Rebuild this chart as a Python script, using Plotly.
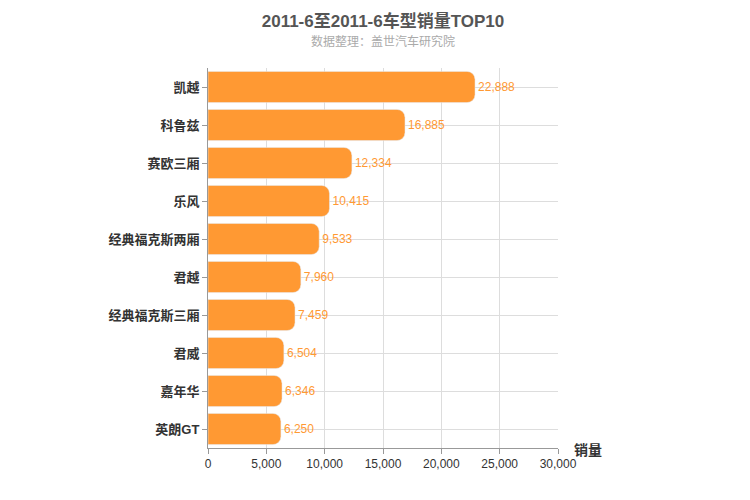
import plotly.graph_objects as go

models = ['凯越', '科鲁兹', '赛欧三厢', '乐风', '经典福克斯两厢', '君越', '经典福克斯三厢', '君威', '嘉年华', '英朗GT']
sales = [22888, 16885, 12334, 10415, 9533, 7960, 7459, 6504, 6346, 6250]
x_ticks = [0, 5000, 10000, 15000, 20000, 25000, 30000]

bar_color = '#FF9933'
grid_color = '#DDDDDD'

fig = go.Figure()
fig.add_trace(go.Bar(
    x=sales,
    y=models,
    orientation='h',
    marker=dict(color=bar_color, cornerradius=8),
    text=[f'{v:,}' for v in sales],
    textposition='outside',
    textfont=dict(color=bar_color, size=12),
    cliponaxis=False,
))

fig.update_layout(
    width=750, height=500,
    plot_bgcolor='white', paper_bgcolor='white',
    font=dict(family='Liberation Sans, Noto Sans CJK SC', color='#333333'),
    margin=dict(l=200, r=200, t=60, b=60, autoexpand=False),
    bargap=0.18,
    showlegend=False,
    title=dict(text='<b>2011-6至2011-6车型销量TOP10</b>', x=0.5, xanchor='center',
               yref='container', y=0.985, yanchor='top', font=dict(size=17, color='#555555')),
    xaxis=dict(
        range=[0, 30000], tickvals=x_ticks, tickformat=',', automargin=False,
        showgrid=True, gridcolor=grid_color, zeroline=False,
        showline=True, linecolor='#999999', ticks='outside', tickcolor='#999999',
        tickfont=dict(size=12, color='#333333'),
    ),
    yaxis=dict(
        autorange='reversed', showgrid=True, gridcolor=grid_color, automargin=False,
        showline=True, linecolor='#999999', ticks='outside', tickcolor='#999999',
        tickfont=dict(size=13, color='#333333'),
        tickprefix='<b>', ticksuffix='</b>',
    ),
    annotations=[
        dict(text='数据整理：盖世汽车研究院', xref='paper', yref='paper', x=0.5, y=1.045,
             xanchor='center', yanchor='bottom', showarrow=False,
             font=dict(size=12, color='#AAAAAA')),
        dict(text='<b>销量</b>', xref='paper', yref='paper', x=1.04, y=-0.005,
             xanchor='left', yanchor='middle', showarrow=False,
             font=dict(size=14, color='#333333')),
    ],
)

fig.write_html('out.html')
